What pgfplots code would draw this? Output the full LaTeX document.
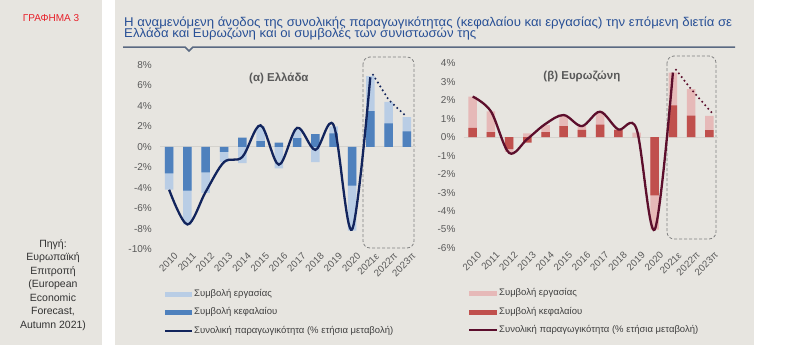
\documentclass[border=0pt]{standalone}
\usepackage{pgfplots}
\pgfplotsset{compat=1.18}
\usepackage{fontspec}
\setmainfont{Liberation Sans}
\newfontfamily\titlefont[FakeStretch=1.04]{Liberation Sans}
\definecolor{panelbg}{RGB}{231,229,224}
\definecolor{titleblue}{RGB}{40,80,150}
\definecolor{sepline}{RGB}{90,105,130}
\definecolor{tickgray}{RGB}{90,90,90}
\definecolor{grlight}{RGB}{185,205,229}
\definecolor{grdark}{RGB}{79,129,189}
\definecolor{grline}{RGB}{18,36,92}
\definecolor{ezlight}{RGB}{230,185,184}
\definecolor{ezdark}{RGB}{192,80,77}
\definecolor{ezline}{RGB}{92,14,44}
\definecolor{zerocol}{RGB}{212,210,205}
\definecolor{boxgray}{RGB}{128,128,128}
\definecolor{grafred}{RGB}{232,32,42}

\pgfplotsset{
  panel/.style={
    scale only axis,
    width=256pt, height=184pt,
    xmin=-0.5, xmax=13.5,
    axis line style={draw=none},
    major tick length=0pt,
    xtick={0,...,13},
    xticklabels={2010,2011,2012,2013,2014,2015,2016,2017,2018,2019,2020,2021ε,2022π,2023π},
    xticklabel style={rotate=45, anchor=east, font=\fontsize{9.7}{12}\selectfont, text=tickgray, inner sep=1pt, xshift=2pt, yshift=-9pt},
    yticklabel style={font=\fontsize{10}{12}\selectfont, text=tickgray, inner sep=1pt},
    yticklabel shift=7pt,
    /pgf/number format/assume math mode=true,
    yticklabel={\pgfmathprintnumber{\tick}\%},
    clip=false,
  }
}

\begin{document}
\begin{tikzpicture}[x=1pt,y=1pt]
\useasboundingbox (0,0) rectangle (786,-354);
\fill[white] (0,0) rectangle (786,-354);
\fill[panelbg] (0,0) rectangle (102,-345);
\fill[panelbg] (115,0) rectangle (754,-345);

% left panel texts
\node[text=grafred, font=\fontsize{10}{12}\selectfont] at (51,-18) {ΓΡΑΦΗΜΑ 3};
\node[align=center, text=black!80, font=\fontsize{10.5}{13.5}\selectfont, anchor=north] at (53,-236)
  {Πηγή:\\Ευρωπαϊκή\\Επιτροπή\\(European\\Economic\\Forecast,\\Autumn 2021)};

% title
\node[anchor=base west, text=titleblue, font=\titlefont\fontsize{12.7}{13}\selectfont, inner sep=0pt] at (124,-26)
  {Η αναμενόμενη άνοδος της συνολικής παραγωγικότητας (κεφαλαίου και εργασίας) την επόμενη διετία σε};
\node[anchor=base west, text=titleblue, font=\titlefont\fontsize{12.7}{13}\selectfont, inner sep=0pt] at (124,-37.5)
  {Ελλάδα και Ευρωζώνη και οι συμβολές των συνιστωσών της};
\draw[sepline, line width=1.5pt] (123,-47) -- (185,-47) -- (189,-51) -- (193,-47) -- (735,-47);

% dashed boxes
\draw[boxgray, line width=0.8pt, dash pattern=on 3pt off 2pt, rounded corners=7pt] (363,-57) rectangle (414,-248);
\draw[boxgray, line width=0.8pt, dash pattern=on 3pt off 2pt, rounded corners=7pt] (667,-56) rectangle (716,-239);

% ---------------- Greece ----------------
\begin{axis}[panel, at={(160pt,-249pt)}, anchor=south west,
  ymin=-10, ymax=8, ytick={-10,-8,...,8}]
\draw[zerocol, line width=0.6pt] (axis cs:-0.5,0) -- (axis cs:13.5,0);
% labour contribution (bar end)
\addplot[ybar, bar width=8.5pt, bar shift=0pt, fill=grlight, draw=none] coordinates {
(0,-4.2) (1,-7.6) (2,-4.5) (3,-1.5) (4,-1.6) (5,2.0) (6,-2.1) (7,1.65) (8,-1.5) (9,2.0) (10,-8.2) (11,6.9) (12,4.4) (13,2.9)};
% capital contribution
\addplot[ybar, bar width=8.5pt, bar shift=0pt, fill=grdark, draw=none] coordinates {
(0,-2.6) (1,-4.3) (2,-2.5) (3,-0.5) (4,0.9) (5,0.55) (6,0.4) (7,0.85) (8,1.25) (9,1.3) (10,-3.8) (11,3.5) (12,2.3) (13,1.5)};
% total productivity
\addplot[smooth, tension=0.55, grline, line width=2.3pt] coordinates {
(0,-4.2) (1,-7.6) (2,-4.4) (3,-1.5) (4,-1.0) (5,2.1) (6,-1.75) (7,1.85) (8,-0.3) (9,2.1) (10,-8.1) (11,6.8)};
\addplot[grline, line width=2.3pt, line cap=round, dash pattern=on 0pt off 4.6pt] coordinates {
(11.15,7.05) (12,4.6) (12.95,3.0)};
\node[font=\bfseries\fontsize{11.5}{13}\selectfont, text=black!65] at (axis cs:6,6.7) {(α) Ελλάδα};
\end{axis}

% ---------------- Euro area ----------------
\begin{axis}[panel, at={(463.6pt,-248pt)}, anchor=south west, width=254.8pt, height=184.7pt,
  ymin=-6, ymax=4, ytick={-6,-5,...,4}]
\draw[zerocol, line width=0.6pt] (axis cs:-0.5,0) -- (axis cs:13.5,0);
\addplot[ybar, bar width=8.5pt, bar shift=0pt, fill=ezlight, draw=none] coordinates {
(0,2.2) (1,1.4) (2,-0.8) (3,0.2) (4,0.65) (5,1.2) (6,0.6) (7,1.38) (8,0.45) (9,0.25) (10,-5.0) (11,3.5) (12,2.6) (13,1.15)};
\addplot[ybar, bar width=8.5pt, bar shift=0pt, fill=ezdark, draw=none] coordinates {
(0,0.5) (1,0.28) (2,-0.65) (3,-0.3) (4,0.28) (5,0.6) (6,0.4) (7,0.68) (8,0.38) (9,0.0) (10,-3.15) (11,1.72) (12,1.17) (13,0.38)};
\addplot[smooth, tension=0.55, ezline, line width=2.3pt] coordinates {
(0,2.2) (1,1.4) (2,-0.85) (3,-0.1) (4,0.72) (5,1.2) (6,0.6) (7,1.38) (8,0.42) (9,0.45) (10,-5.0) (11,3.5)};
\addplot[ezline, line width=2.3pt, line cap=round, dash pattern=on 0pt off 4.6pt] coordinates {
(11.17,3.65) (12,2.6) (13.25,1.2)};
\node[font=\bfseries\fontsize{11.5}{13}\selectfont, text=black!65] at (axis cs:6,3.3) {(β) Ευρωζώνη};
\end{axis}

% legends
\begin{scope}[font=\fontsize{9.5}{11}\selectfont]
\draw[grlight, line width=5pt] (165,-294) -- (192,-294);
\node[anchor=west, text=black!75, inner sep=1pt] at (193,-294) {Συμβολή εργασίας};
\draw[grdark, line width=5pt] (165,-312) -- (192,-312);
\node[anchor=west, text=black!75, inner sep=1pt] at (193,-312) {Συμβολή κεφαλαίου};
\draw[grline, line width=2.5pt] (165,-331) -- (192,-331);
\node[anchor=west, text=black!75, inner sep=1pt] at (193,-331) {Συνολική παραγωγικότητα (\% ετήσια μεταβολή)};

\draw[ezlight, line width=5pt] (469,-293) -- (497,-293);
\node[anchor=west, text=black!75, inner sep=1pt] at (498,-293) {Συμβολή εργασίας};
\draw[ezdark, line width=5pt] (469,-312) -- (497,-312);
\node[anchor=west, text=black!75, inner sep=1pt] at (498,-312) {Συμβολή κεφαλαίου};
\draw[ezline, line width=2.5pt] (469,-330) -- (497,-330);
\node[anchor=west, text=black!75, inner sep=1pt] at (498,-330) {Συνολική παραγωγικότητα (\% ετήσια μεταβολή)};
\end{scope}
\end{tikzpicture}
\end{document}
